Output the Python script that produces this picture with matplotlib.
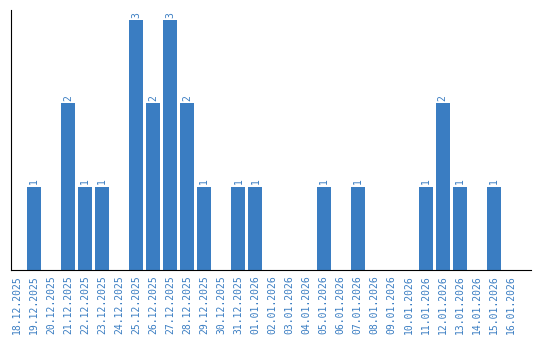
import matplotlib
matplotlib.use("Agg")
import matplotlib.pyplot as plt
import numpy as np

dates = ["18.12.2025", "19.12.2025", "20.12.2025", "21.12.2025", "22.12.2025",
         "23.12.2025", "24.12.2025", "25.12.2025", "26.12.2025", "27.12.2025",
         "28.12.2025", "29.12.2025", "30.12.2025", "31.12.2025", "01.01.2026",
         "02.01.2026", "03.01.2026", "04.01.2026", "05.01.2026", "06.01.2026",
         "07.01.2026", "08.01.2026", "09.01.2026", "10.01.2026", "11.01.2026",
         "12.01.2026", "13.01.2026", "14.01.2026", "15.01.2026", "16.01.2026"]
counts = [0, 1, 0, 2, 1, 1, 0, 3, 2, 3, 2, 1, 0, 1, 1,
          0, 0, 0, 1, 0, 1, 0, 0, 0, 1, 2, 1, 0, 1, 0]

blue = "#3a7dc2"
font = "DejaVu Sans Mono"

fig = plt.figure(figsize=(5.4, 3.4), dpi=100)
ax = fig.add_axes([0.0204, 0.206, 0.963, 0.764])
x = np.arange(len(dates))
ax.bar(x, counts, width=0.82, color=blue)
for i, c in enumerate(counts):
    if c > 0:
        ax.text(i, c + 0.03, str(c), rotation=90, ha="center", va="bottom",
                color=blue, fontsize=7, family=font)

ax.set_xlim(-0.35, 30.18)
ax.set_ylim(0, 3.12)
ax.set_xticks(x)
ax.set_xticklabels(dates, rotation=90, color=blue, fontsize=7, family=font)
ax.tick_params(axis="x", length=0, pad=4)
ax.set_yticks([])
ax.spines["top"].set_visible(False)
ax.spines["right"].set_visible(False)

fig.savefig("out.png", dpi=100)
